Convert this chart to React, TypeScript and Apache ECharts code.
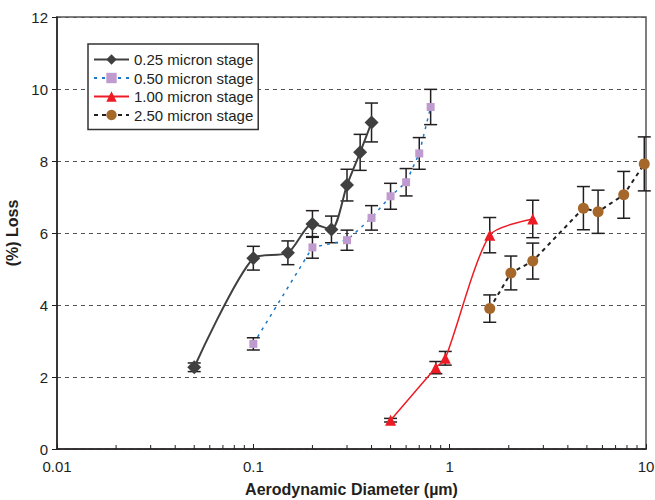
import React, { useEffect, useRef } from "react";
import * as echarts from "echarts";

const xTickLabels = ["0.01", "0.1", "1", "10"];
const minorTickValues = [
  0.02, 0.03, 0.04, 0.05, 0.06, 0.07, 0.08, 0.09,
  0.2, 0.3, 0.4, 0.5, 0.6, 0.7, 0.8, 0.9,
  2, 3, 4, 5, 6, 7, 8, 9,
];

const seriesNames = [
  "0.25 micron stage",
  "0.50 micron stage",
  "1.00 micron stage",
  "2.50 micron stage",
];

const s025x = [0.05, 0.1, 0.15, 0.2, 0.25, 0.3, 0.35, 0.4];
const s025y = [2.27, 5.3, 5.45, 6.25, 6.1, 7.33, 8.24, 9.07];
const s025e = [0.12, 0.33, 0.33, 0.37, 0.37, 0.44, 0.5, 0.54];

const s050x = [0.1, 0.2, 0.3, 0.4, 0.5, 0.6, 0.7, 0.8];
const s050y = [2.92, 5.6, 5.8, 6.42, 7.02, 7.41, 8.21, 9.5];
const s050e = [0.17, 0.3, 0.28, 0.34, 0.36, 0.38, 0.44, 0.49];

const s100x = [0.5, 0.85, 0.95, 1.6, 2.65];
const s100y = [0.8, 2.26, 2.52, 5.94, 6.39];
const s100e = [0.05, 0.17, 0.19, 0.49, 0.52];

const s250x = [1.6, 2.05, 2.65, 4.8, 5.7, 7.7, 9.8];
const s250y = [3.9, 4.89, 5.22, 6.69, 6.59, 7.06, 7.92];
const s250e = [0.38, 0.47, 0.5, 0.6, 0.6, 0.65, 0.75];

const FONT = "'Liberation Sans', Arial, sans-serif";
const INK = "#231f20";

function pairs(xs: number[], ys: number[]) {
  return xs.map((x, i) => [x, ys[i]]);
}
function triples(xs: number[], ys: number[], es: number[]) {
  return xs.map((x, i) => [x, ys[i], es[i]]);
}

const errorRender = (params: any, api: any) => {
  const x = api.value(0);
  const y = api.value(1);
  const e = api.value(2);
  const top = api.coord([x, y + e]);
  const bot = api.coord([x, y - e]);
  const hw = 6.5;
  const style = { stroke: "#231f20", lineWidth: 1.5 };
  return {
    type: "group",
    children: [
      { type: "line", shape: { x1: top[0], y1: top[1], x2: bot[0], y2: bot[1] }, style },
      { type: "line", shape: { x1: top[0] - hw, y1: top[1], x2: top[0] + hw, y2: top[1] }, style },
      { type: "line", shape: { x1: bot[0] - hw, y1: bot[1], x2: bot[0] + hw, y2: bot[1] }, style },
    ],
  };
};

const minorTickRender = (params: any, api: any) => {
  const p = api.coord([api.value(0), 0]);
  return {
    type: "line",
    shape: { x1: p[0], y1: p[1], x2: p[0], y2: p[1] - 4 },
    style: { stroke: INK, lineWidth: 1 },
  };
};

export default function App() {
  const ref = useRef<HTMLDivElement>(null);
  useEffect(() => {
    if (!ref.current) return;
    const chart = echarts.init(ref.current, null, { renderer: "svg" });
    const errSeries = (data: number[][]) => ({
      type: "custom",
      renderItem: errorRender,
      data,
      encode: { x: 0, y: 1 },
      z: 1,
      silent: true,
      clip: false,
    });
    chart.setOption({
      animation: false,
      textStyle: { fontFamily: FONT },
      grid: {
        left: 57,
        right: 9,
        top: 17,
        bottom: 51,
        show: true,
        borderColor: "#555",
        borderWidth: 1.5,
        containLabel: false,
        outerBoundsMode: "none",
      },
      legend: {
        data: seriesNames,
        orient: "vertical",
        left: 88,
        top: 44,
        padding: [8, 5, 7, 5],
        itemGap: 3.5,
        itemWidth: 35,
        itemHeight: 13,
        borderColor: "#333",
        borderWidth: 1.5,
        backgroundColor: "#fff",
        textStyle: { fontSize: 15, color: INK, fontFamily: FONT },
      },
      xAxis: {
        type: "log",
        logBase: 10,
        min: 0.01,
        max: 10,
        name: "Aerodynamic Diameter (\u00b5m)",
        nameLocation: "middle",
        nameGap: 32,
        nameTextStyle: { fontSize: 16, fontWeight: "bold", color: INK, fontFamily: FONT },
        axisLine: { lineStyle: { color: INK, width: 1.5 } },
        axisTick: { inside: true, length: 5, lineStyle: { color: INK } },
        axisLabel: {
          fontSize: 15,
          color: INK,
          margin: 10,
          formatter: (v: number, i: number) => xTickLabels[i] ?? String(v),
        },
        splitLine: { show: false },
      },
      yAxis: {
        type: "value",
        min: 0,
        max: 12,
        interval: 2,
        name: "(%) Loss",
        nameLocation: "middle",
        nameGap: 29,
        nameTextStyle: { fontSize: 16, fontWeight: "bold", color: INK, fontFamily: FONT },
        axisLine: { show: true, lineStyle: { color: INK, width: 1.5 } },
        axisTick: { show: true, length: 5, lineStyle: { color: INK } },
        axisLabel: { fontSize: 15, color: INK, margin: 9 },
        splitLine: { show: true, lineStyle: { color: "#555", type: [4, 4], width: 1 } },
      },
      series: [
        {
          type: "custom",
          renderItem: minorTickRender,
          data: minorTickValues.map((v) => [v, 0]),
          encode: { x: 0, y: 1 },
          silent: true,
          clip: false,
          z: 3,
        },
        errSeries(triples(s025x, s025y, s025e)),
        errSeries(triples(s050x, s050y, s050e)),
        errSeries(triples(s100x, s100y, s100e)),
        errSeries(triples(s250x, s250y, s250e)),
        {
          name: seriesNames[0],
          type: "line",
          data: pairs(s025x, s025y),
          smooth: 0.25,
          symbol: "diamond",
          symbolSize: 14,
          itemStyle: { color: "#404040" },
          lineStyle: { color: "#404040", width: 2 },
          z: 4,
        },
        {
          name: seriesNames[1],
          type: "line",
          data: pairs(s050x, s050y),
          symbol: "rect",
          symbolSize: 8,
          itemStyle: { color: "#c09bd0" },
          lineStyle: { color: "#1a78c8", width: 1.5, type: [3, 5] },
          z: 4,
        },
        {
          name: seriesNames[2],
          type: "line",
          data: pairs(s100x, s100y),
          smooth: 0.25,
          symbol: "triangle",
          symbolSize: 11,
          itemStyle: { color: "#ed1c24" },
          lineStyle: { color: "#ed1c24", width: 1.5 },
          z: 4,
        },
        {
          name: seriesNames[3],
          type: "line",
          data: pairs(s250x, s250y),
          symbol: "circle",
          symbolSize: 11,
          itemStyle: { color: "#a5672a" },
          lineStyle: { color: "#231f20", width: 2, type: [4, 4] },
          z: 4,
        },
      ],
    });
    return () => chart.dispose();
  }, []);
  return (
    <div
      ref={ref}
      style={{ position: "fixed", left: 0, top: 0, width: 655, height: 500, background: "#fff" }}
    />
  );
}
